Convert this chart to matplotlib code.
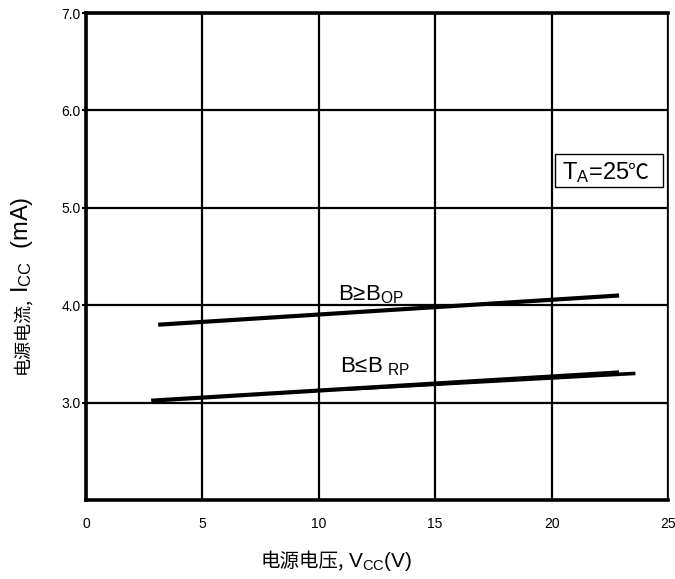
import matplotlib.pyplot as plt
from matplotlib.patches import Rectangle

plt.rcParams['font.family'] = ['Liberation Sans', 'Noto Sans CJK SC', 'DejaVu Sans']
plt.rcParams['mathtext.default'] = 'regular'
CJK = ['Noto Sans CJK SC', 'Liberation Sans']

# B >= B_OP curve
vcc_op = [3.1, 22.9]
icc_op = [3.80, 4.10]
# B <= B_RP curve (drawn as two overlapping strokes in the original)
vcc_rp = [2.8, 22.9]
icc_rp = [3.02, 3.31]
vcc_rp2 = [11.3, 23.6]
icc_rp2 = [3.14, 3.30]

xticks = [0, 5, 10, 15, 20, 25]
yticks = [3, 4, 5, 6, 7]
ytick_labels = ['3.0', '4.0', '5.0', '6.0', '7.0']

fig = plt.figure(figsize=(6.75, 5.79), dpi=100)
ax = fig.add_axes([0.1274, 0.1364, 0.8622, 0.8411])

ax.set_xlim(0, 25)
ax.set_ylim(2, 7)
ax.set_xticks(xticks)
ax.set_yticks(yticks)
ax.set_yticklabels(ytick_labels)
ax.tick_params(axis='x', length=0, pad=12, labelsize=10)
ax.tick_params(axis='y', length=3, width=1.5, pad=1, labelsize=10)

ax.grid(True, color='black', linewidth=1.6)
ax.set_axisbelow(True)
for side in ['left', 'bottom', 'top']:
    ax.spines[side].set_linewidth(2.6)
ax.spines['right'].set_linewidth(1.2)

ax.plot(vcc_op, icc_op, color='black', linewidth=3, solid_capstyle='butt')
ax.plot(vcc_rp, icc_rp, color='black', linewidth=3, solid_capstyle='butt')
ax.plot(vcc_rp2, icc_rp2, color='black', linewidth=2.6, solid_capstyle='butt')

# curve labels
ax.text(10.82, 4.05, r'B≥B$_{OP}$', fontsize=16, va='baseline', ha='left')
ax.text(10.91, 3.31, r'B≤B$_{\ RP}$', fontsize=16, va='baseline', ha='left')

# temperature box
ax.add_patch(Rectangle((20.15, 5.215), 4.64, 0.339, facecolor='white',
                       edgecolor='black', linewidth=1.0, zorder=3))
ax.text(20.45, 5.30, r'T$_A$=25', fontsize=17, va='baseline', ha='left', zorder=4)
ax.text(23.3, 5.30, '℃', fontsize=15, va='baseline', ha='left',
        family=CJK, zorder=4)

# x axis label: Chinese part + Latin part sharing one baseline
fig.text(0.5096, 0.0207, '电源电压,', fontsize=14, ha='right', va='baseline',
         family=CJK)
fig.text(0.5156, 0.0207, r'V$_{CC}$(V)', fontsize=15, ha='left', va='baseline')

# y axis label, rotated
fig.text(0.041, 0.487, '电源电流,', fontsize=13, ha='right', va='baseline',
         rotation=90, rotation_mode='anchor', family=CJK)
fig.text(0.041, 0.494, r'I$_{CC}$  (mA)', fontsize=17, ha='left', va='baseline',
         rotation=90, rotation_mode='anchor')

fig.savefig('out.png', dpi=100)
